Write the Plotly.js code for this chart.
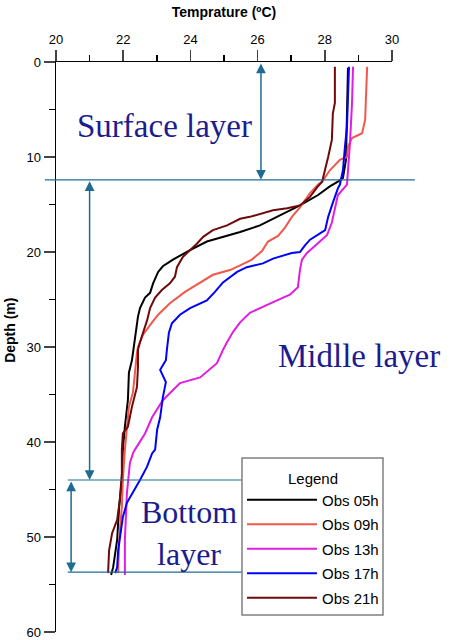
<!DOCTYPE html>
<html>
<head>
<meta charset="utf-8">
<script src="https://cdn.plot.ly/plotly-3.0.1.min.js"></script>
<style>html,body{margin:0;padding:0;background:#fff;}#chart{width:460px;height:640px;}</style>
</head>
<body>
<div id="chart"></div>
<script>
// ---- data ----
var seriesNames = ['Obs 05h', 'Obs 09h', 'Obs 13h', 'Obs 17h', 'Obs 21h'];

var depth05 = [0.6, 6.1, 10.3, 12.2, 12.6, 13.1, 14.0, 15.1, 16.1, 17.2, 17.9, 18.5, 18.9, 19.8, 20.8, 21.5, 22.1, 23.3, 24.3, 24.8, 25.9, 26.8, 28.9, 30.3, 31.4, 32.7, 35.6, 38.4, 40.8, 44.0, 46.8, 50.3, 53.2, 54.0];
var temp05  = [28.69, 28.66, 28.63, 28.54, 28.39, 28.15, 27.80, 27.26, 26.67, 26.07, 25.48, 24.88, 24.49, 23.99, 23.48, 23.18, 23.04, 22.89, 22.80, 22.65, 22.50, 22.44, 22.35, 22.29, 22.26, 22.17, 22.14, 22.05, 21.99, 21.96, 21.88, 21.82, 21.70, 21.64];

var depth09 = [0.5, 3.3, 6.1, 7.5, 8.0, 8.9, 10.0, 10.3, 11.4, 12.6, 12.9, 13.8, 15.3, 16.3, 17.4, 18.3, 18.9, 19.9, 20.8, 21.4, 21.9, 22.4, 23.2, 24.2, 25.4, 26.6, 27.4, 28.7, 30.0, 30.6, 32.7, 34.8, 36.3, 38.4, 40.8, 44.0, 46.8, 50.3, 53.8];
var temp09  = [29.26, 29.23, 29.20, 29.11, 28.81, 28.69, 28.66, 28.45, 28.15, 27.92, 27.80, 27.56, 27.26, 27.02, 26.82, 26.61, 26.31, 26.13, 25.83, 25.48, 25.18, 24.67, 24.29, 23.84, 23.39, 23.04, 22.86, 22.59, 22.44, 22.41, 22.35, 22.29, 22.17, 22.11, 22.05, 21.99, 21.96, 21.88, 21.85];

var depth13 = [0.5, 4.3, 8.5, 11.4, 12.9, 14.0, 15.3, 16.9, 18.2, 18.9, 19.5, 20.1, 20.8, 21.9, 23.7, 24.5, 25.1, 25.6, 26.4, 27.4, 28.4, 29.5, 30.3, 31.7, 33.2, 33.8, 35.6, 37.4, 39.1, 40.8, 41.2, 42.2, 45.4, 50.3, 54.0];
var temp13  = [28.84, 28.81, 28.75, 28.69, 28.66, 28.39, 28.30, 28.21, 28.07, 27.86, 27.65, 27.47, 27.32, 27.26, 27.20, 26.96, 26.58, 26.28, 25.77, 25.48, 25.27, 25.09, 24.97, 24.79, 24.29, 23.69, 23.18, 22.86, 22.65, 22.35, 22.29, 22.20, 22.11, 22.05, 22.05];

var depth17 = [0.5, 3.3, 6.8, 8.9, 11.4, 12.9, 13.3, 14.8, 16.3, 17.7, 18.2, 18.7, 19.3, 20.0, 20.1, 20.4, 20.7, 21.2, 21.6, 22.1, 23.2, 24.2, 25.1, 25.9, 26.6, 27.5, 28.5, 30.3, 31.4, 32.4, 33.2, 33.7, 35.3, 36.3, 37.4, 38.7, 40.8, 41.2, 42.6, 44.0, 45.4, 46.4, 47.9, 49.6, 51.4, 53.2, 53.8];
var temp17  = [28.72, 28.69, 28.66, 28.60, 28.54, 28.45, 28.39, 28.24, 28.10, 28.01, 27.80, 27.56, 27.41, 27.26, 27.02, 26.73, 26.46, 26.16, 25.68, 25.39, 24.97, 24.73, 24.49, 23.99, 23.69, 23.45, 23.36, 23.30, 23.27, 23.10, 23.21, 23.27, 23.18, 23.15, 23.10, 23.01, 22.95, 22.86, 22.71, 22.50, 22.26, 22.11, 21.99, 21.93, 21.85, 21.82, 21.76];

var depth21 = [0.5, 4.3, 5.4, 8.2, 10.0, 11.4, 12.6, 13.2, 14.2, 15.1, 15.4, 15.6, 15.9, 16.3, 16.5, 17.2, 17.7, 18.4, 19.1, 19.8, 20.5, 21.6, 22.6, 23.3, 24.0, 24.8, 25.9, 27.2, 28.4, 29.5, 30.3, 32.1, 34.2, 36.3, 38.4, 39.1, 40.8, 43.3, 46.1, 48.2, 49.6, 51.4, 53.8];
var temp21  = [28.30, 28.30, 28.24, 28.21, 28.10, 28.01, 27.92, 27.77, 27.56, 27.26, 26.88, 26.46, 26.16, 25.77, 25.48, 25.09, 24.67, 24.38, 24.20, 23.99, 23.78, 23.60, 23.54, 23.39, 23.15, 22.95, 22.80, 22.71, 22.59, 22.50, 22.44, 22.44, 22.41, 22.26, 22.14, 21.99, 21.96, 21.96, 21.90, 21.82, 21.67, 21.58, 21.55];

// layer boundaries (depth, m) and labels
var layerBounds = [0, 12.4, 44.0, 53.7];
var layerLabels = ['Surface layer', 'Midlle layer', 'Bottom<br>layer'];

var xTickVals = [20, 22, 24, 26, 28, 30];
var yTickVals = [0, 10, 20, 30, 40, 50, 60];

// ---- styling ----
var colors = ['#000000', '#f0584c', '#e01ee0', '#0000ff', '#6e0a0a'];
var depths = [depth05, depth09, depth13, depth17, depth21];
var temps = [temp05, temp09, temp13, temp17, temp21];
var guide = '#1f6c92';
var labelColor = '#1c1c8e';

var traces = seriesNames.map(function (n, i) {
  return {
    x: temps[i], y: depths[i], name: n, type: 'scatter', mode: 'lines',
    legendgroup: 'g' + i,
    line: {color: colors[i], width: 2}
  };
});

var xMin = 20, xMax = 30, yMax = 60;
function py(d) { return 1 - d / yMax; }

var shapes = [
  {type: 'line', xref: 'paper', yref: 'paper', x0: -0.033, x1: 1.068, y0: py(layerBounds[1]), y1: py(layerBounds[1]), line: {color: guide, width: 1.2}},
  {type: 'line', xref: 'paper', yref: 'paper', x0: 0.035, x1: 0.652, y0: py(layerBounds[2]), y1: py(layerBounds[2]), line: {color: guide, width: 1.2}},
  {type: 'line', xref: 'paper', yref: 'paper', x0: 0.035, x1: 0.652, y0: py(layerBounds[3]), y1: py(layerBounds[3]), line: {color: guide, width: 1.2}},
  // legend frame
  {type: 'rect', xref: 'paper', yref: 'paper', x0: 0.5536, x1: 0.9732, y0: 0.0298, y1: 0.3053, layer: 'above',
   fillcolor: '#ffffff', line: {color: '#808080', width: 1.5}}
];

function arrow(xv, d0, d1) {
  return {x: xv, y: d1, ax: xv, ay: d0, xref: 'x', yref: 'y', axref: 'x', ayref: 'y',
    text: '', showarrow: true, arrowside: 'end+start', arrowhead: 2, startarrowhead: 2,
    arrowsize: 1.3, startarrowsize: 1.3, arrowwidth: 1.5, arrowcolor: guide, standoff: 0, startstandoff: 0};
}

var serif = '"Liberation Serif", "Times New Roman", serif';
var annotations = [
  arrow(26.1, layerBounds[0], layerBounds[1]),
  arrow(21.0, layerBounds[1], layerBounds[2]),
  arrow(20.45, layerBounds[2], layerBounds[3]),
  {x: 23.24, y: 6.7, xref: 'x', yref: 'y', text: layerLabels[0], showarrow: false, font: {family: serif, size: 33, color: labelColor}},
  {x: 29.02, y: 30.9, xref: 'x', yref: 'y', text: layerLabels[1], showarrow: false, font: {family: serif, size: 33, color: labelColor}},
  {x: 23.95, y: 49.6, xref: 'x', yref: 'y', text: layerLabels[2], showarrow: false, align: 'center', font: {family: serif, size: 32, color: labelColor}},
  {x: -0.137, y: 0.53, xref: 'paper', yref: 'paper', xanchor: 'center', yanchor: 'middle', text: '<b>Depth (m)</b>', textangle: -90, showarrow: false, font: {size: 14, color: '#000'}}
];

var sans = '"Liberation Sans", Arial, sans-serif';
var layout = {
  width: 460, height: 640,
  margin: {l: 56, r: 68, t: 62, b: 8},
  paper_bgcolor: '#fff', plot_bgcolor: '#fff',
  font: {family: sans, color: '#000', size: 13},
  showlegend: true,
  legend: {
    x: 0.5536, y: 0.2947, xanchor: 'left', yanchor: 'top',
    bgcolor: 'rgba(0,0,0,0)', borderwidth: 0, tracegroupgap: 2,
    font: {family: sans, size: 15, color: '#000'},
    title: {text: 'Legend', side: 'top center', font: {family: sans, size: 15, color: '#000'}},
    itemwidth: 70
  },
  xaxis: {
    side: 'top', range: [xMin, xMax], tickvals: xTickVals, ticks: 'outside', ticklen: 11, tickwidth: 1.5,
    showline: true, linewidth: 1.5, linecolor: '#000', showgrid: false, zeroline: false,
    minor: {dtick: 1, ticks: 'outside', ticklen: 6, tickwidth: 1.5, tickcolor: '#000', showgrid: false},
    tickfont: {size: 13},
    title: {text: '<b>Temprature (ºC)</b>', font: {size: 14}}
  },
  yaxis: {
    range: [yMax, 0], tickvals: yTickVals, ticks: 'outside', ticklen: 11, tickwidth: 1.5,
    showline: true, linewidth: 1.5, linecolor: '#000', showgrid: false, zeroline: false,
    minor: {dtick: 5, ticks: 'outside', ticklen: 6, tickwidth: 1.5, tickcolor: '#000', showgrid: false},
    tickfont: {size: 13}
  },
  shapes: shapes,
  annotations: annotations
};

Plotly.newPlot('chart', traces, layout, {displayModeBar: false, staticPlot: true});
</script>
</body>
</html>
